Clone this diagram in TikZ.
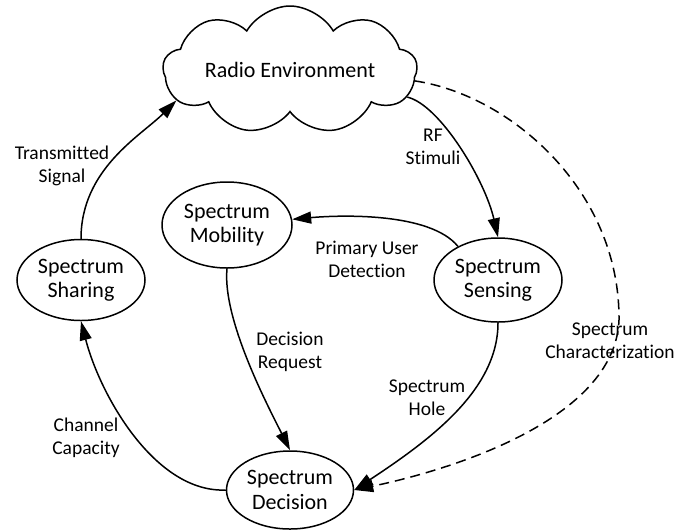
\documentclass[tikz,border=0pt]{standalone}
\usepackage{fontspec}
\setmainfont{Carlito}[Ligatures=NoCommon]
\usetikzlibrary{shapes.geometric,shapes.symbols,arrows.meta}
\begin{document}
\begin{tikzpicture}[x=1pt,y=-1pt,
  st/.style={draw, ellipse, line width=1.5pt, inner sep=0pt, align=center, font=\fontsize{22}{24.5}\selectfont},
  lbl/.style={align=center, font=\fontsize{19.5}{23}\selectfont, inner sep=0pt},
  arr/.style={line width=1.5pt, -{Triangle[length=19pt,width=12pt]}},
]
\useasboundingbox (0,0) rectangle (690,531);
\node[cloud, draw, line width=1.5pt, cloud puffs=9, cloud puff arc=120, cloud ignores aspect,
      minimum width=254pt, minimum height=128pt, inner sep=0pt,
      font=\fontsize{22}{24}\selectfont] (env) at (290,70) {Radio Environment};
\node[st, minimum width=128pt, minimum height=81pt] (sharing) at (81,280) {Spectrum\\Sharing};
\node[st, minimum width=130pt, minimum height=86pt] (mobility) at (227,225) {Spectrum\\Mobility};
\node[st, minimum width=128pt, minimum height=84pt] (sensing) at (498,280) {Spectrum\\Sensing};
\node[st, minimum width=127pt, minimum height=78pt] (decision) at (290,490) {Spectrum\\Decision};

\node[lbl] (l1) at (62,166) {Transmitted\\Signal};
\node[lbl] (l2) at (433,147) {RF\\Stimuli};
\node[lbl] (l3) at (367,259) {Primary User\\Detection};
\node[lbl] (l4) at (290,352) {Decision\\Request};
\node[lbl] (l5) at (427,398) {Spectrum\\Hole};
\node[lbl] (l6) at (86,438) {Channel\\Capacity};
\node[lbl] (l7) at (610,341) {Spectrum\\Characterization};

\draw[arr] (sharing.north) .. controls +(0,-70) and +(-35,35) .. (env.195);
\draw[arr] (env.-13) .. controls (440,105) and (485,180) .. (sensing.north);
\draw[arr] (sensing.140) .. controls (430,212) and (340,215) .. (mobility.5);
\draw[arr] (mobility.south) .. controls (222,320) and (270,410) .. (decision.north);
\draw[arr] (sensing.south) .. controls (498,390) and (430,440) .. (decision.east);
\draw[arr] (decision.west) .. controls (155,493) and (100,395) .. (sharing.south);
\draw[arr, dash pattern=on 10pt off 6pt] (env.-5) .. controls (510,95) and (620,190) .. (619,320)
   .. controls (615,420) and (450,470) .. (decision.east);
\end{tikzpicture}
\end{document}
